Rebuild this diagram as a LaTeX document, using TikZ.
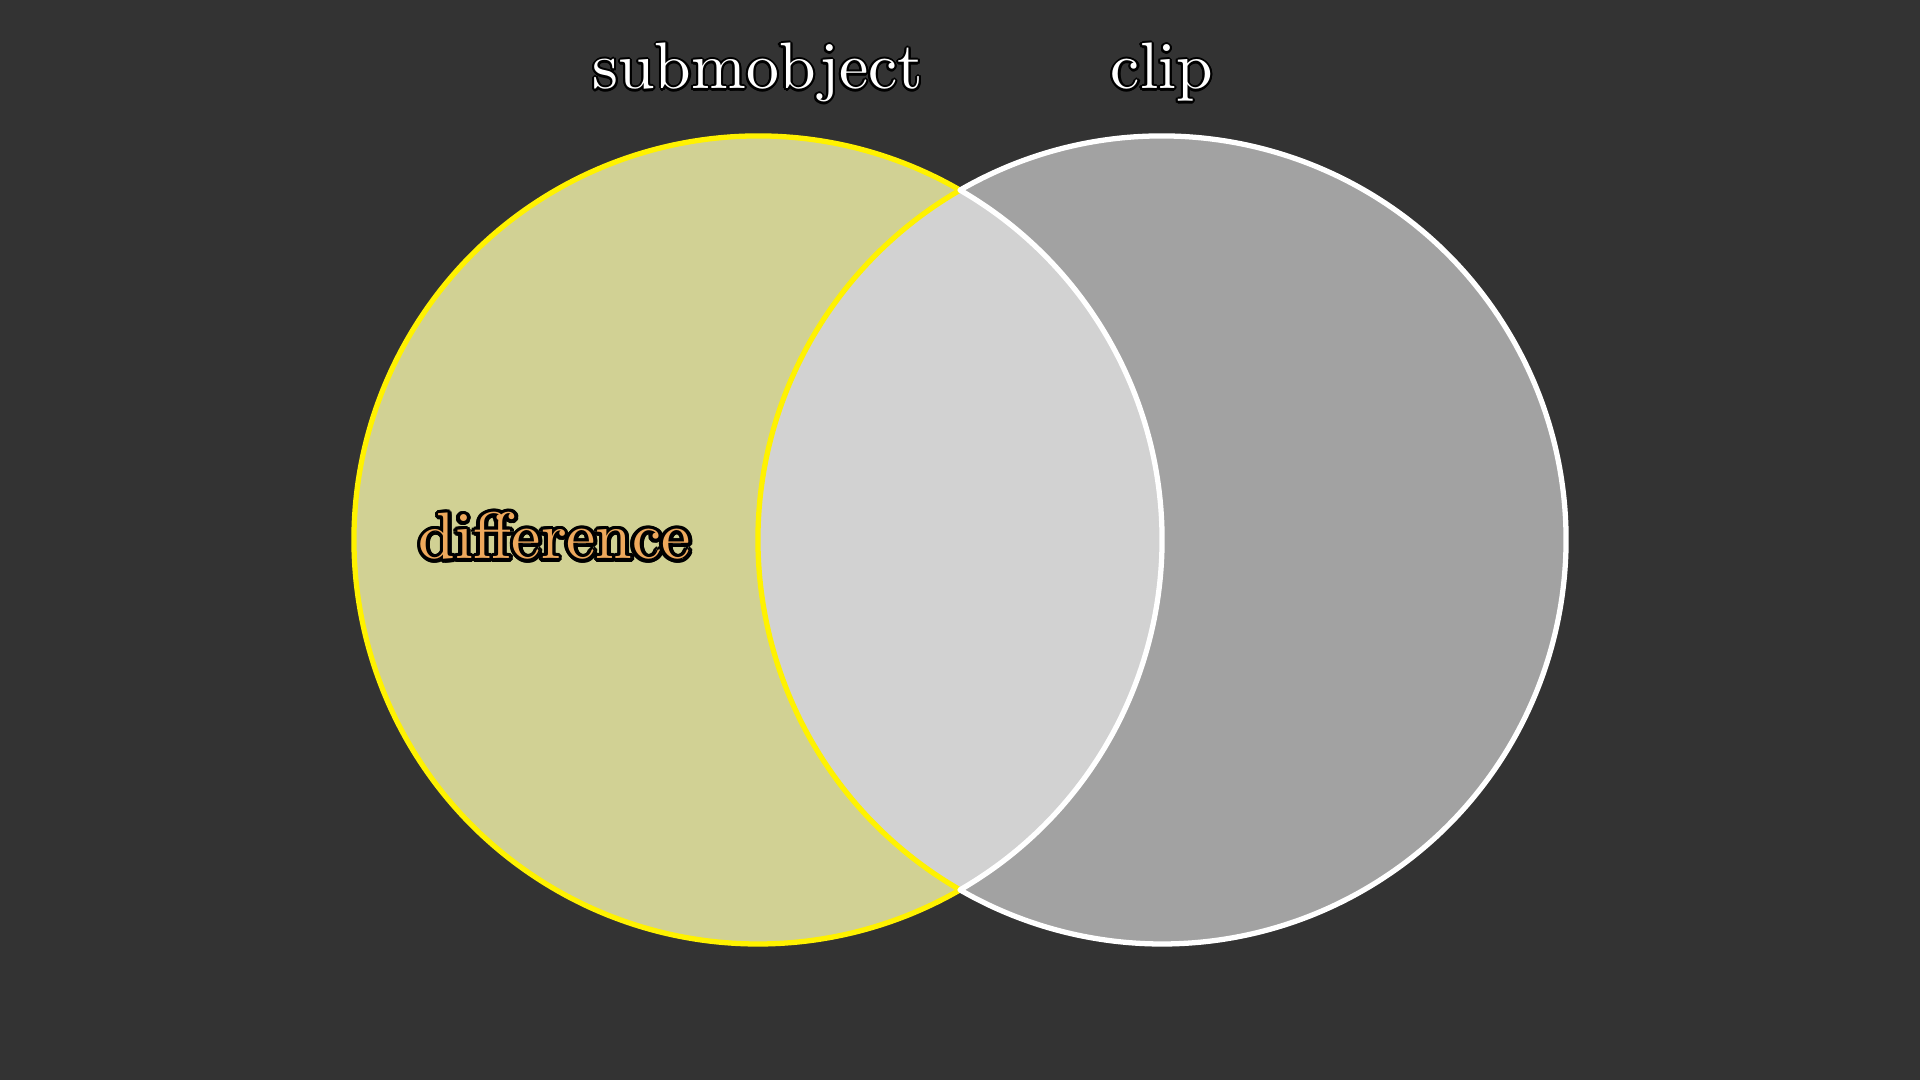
\documentclass[tikz,border=0pt]{standalone}
\usepackage{tikz}
\usepackage{contour}
\usetikzlibrary{calc}
\definecolor{bgcol}{HTML}{333333}
\definecolor{diffcol}{RGB}{209,209,148}
\definecolor{clipcol}{HTML}{A2A2A2}
\definecolor{bothcol}{HTML}{D2D2D2}
\definecolor{lblorange}{RGB}{238,168,92}
\font\lblfont=cmr10 at 18.7pt

\begin{document}
\begin{tikzpicture}[
    lbl/.style={anchor=base,inner sep=0pt,text=white,font=\lblfont},
    edge/.style={line width=1.5pt,line join=round}]
    \fill[bgcol] (0,0) rectangle (19.2,10.8);
    \coordinate (s) at (7.58,5.4);
    \coordinate (c) at (11.62,5.4);
    \def\r{4.04}
    \fill[bothcol] ($(s)+(60:\r)$) arc[start angle=60,end angle=-60,radius=\r] arc[start angle=240,end angle=120,radius=\r] -- cycle;
    \draw[edge,fill=diffcol,draw=yellow] ($(s)+(60:\r)$) arc[start angle=60,end angle=300,radius=\r] arc[start angle=240,end angle=120,radius=\r] -- cycle;
    \draw[edge,fill=clipcol,draw=white] ($(c)+(120:\r)$) arc[start angle=120,end angle=-120,radius=\r] arc[start angle=-60,end angle=60,radius=\r] -- cycle;
    \contourlength{0.6pt}
    \node[lbl] (sublbl) at (7.58,9.91) {\contour{black}{submobject}};
    \node[lbl] (cliplbl) at (11.62,9.91) {\contour{black}{clip}};
    \contourlength{1.1pt}
    \node[lbl,text=lblorange] (difflbl) at (5.55,5.21) {\contour{black}{difference}};
\end{tikzpicture}
\end{document}
